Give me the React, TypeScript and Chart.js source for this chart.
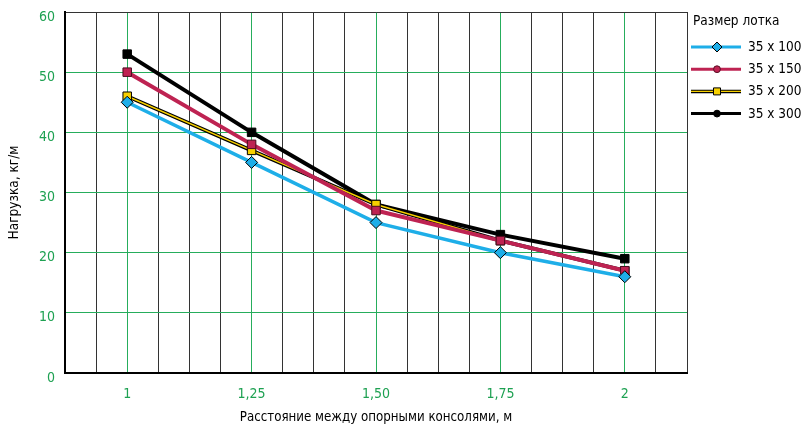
import React, { useEffect, useRef } from "react";
import { Chart, registerables } from "chart.js";

Chart.register(...registerables);

// ---- data ----
const xValues = [1, 1.25, 1.5, 1.75, 2];
const xTickLabels = ["1", "1,25", "1,50", "1,75", "2"];
const xGridValues = [
  0.875, 0.9375, 1, 1.0625, 1.125, 1.1875, 1.25, 1.3125, 1.375, 1.4375, 1.5,
  1.5625, 1.625, 1.6875, 1.75, 1.8125, 1.875, 1.9375, 2, 2.0625, 2.125,
];
const yTickValues = [0, 10, 20, 30, 40, 50, 60];

const series100 = [45, 35, 25, 20, 16];
const series150 = [50, 38, 27, 22, 17];
const series200 = [46, 37, 28, 22, 17];
const series300 = [53, 40, 28, 23, 19];

const seriesNames = ["35 x 100", "35 x 150", "35 x 200", "35 x 300"];
const legendTitle = "Размер лотка";
const yTitle = "Нагрузка, кг/м";
const xTitle = "Расстояние между опорными консолями, м";

// ---- styles ----
const FONT = "'Liberation Sans Narrow', 'Arial Narrow', 'DejaVu Sans Condensed', 'Liberation Sans', sans-serif";
const GREEN_GRID = "#26ad5c";
const GREEN_TEXT = "#1ea152";
const MINOR_GRID = "#333333";
const CYAN = "#1eaee8";
const CRIMSON = "#be2352";
const YELLOW = "#f7d000";
const BLACK = "#000000";

const toPoints = (vals: number[]) => vals.map((v, i) => ({ x: xValues[i], y: v }));

const legendPlugin = {
  id: "customLegend",
  afterDraw(chart: any) {
    const ctx = chart.ctx as CanvasRenderingContext2D;
    ctx.save();
    ctx.font = `13.5px ${FONT}`;
    ctx.fillStyle = "#000";
    ctx.textBaseline = "middle";
    ctx.textAlign = "left";
    ctx.fillText(legendTitle, 693, 21);
    const styles = [
      { color: CYAN, marker: "diamond", border: "#000" },
      { color: CRIMSON, marker: "circle", border: "#5a1025" },
      { color: YELLOW, marker: "square", border: "#000" },
      { color: BLACK, marker: "circle", border: "#000" },
    ];
    const x0 = 691;
    const x1 = 741;
    const mx = 717;
    seriesNames.forEach((name, i) => {
      const y = 47 + i * 22.2;
      const st = styles[i];
      ctx.lineCap = "butt";
      if (st.color === YELLOW) {
        ctx.strokeStyle = "#000";
        ctx.lineWidth = 3.5;
        ctx.beginPath();
        ctx.moveTo(x0, y);
        ctx.lineTo(x1, y);
        ctx.stroke();
        ctx.strokeStyle = YELLOW;
        ctx.lineWidth = 1.4;
        ctx.beginPath();
        ctx.moveTo(x0, y);
        ctx.lineTo(x1, y);
        ctx.stroke();
      } else {
        ctx.strokeStyle = st.color;
        ctx.lineWidth = 3;
        ctx.beginPath();
        ctx.moveTo(x0, y);
        ctx.lineTo(x1, y);
        ctx.stroke();
      }
      ctx.fillStyle = st.color;
      ctx.strokeStyle = st.border;
      ctx.lineWidth = 1;
      ctx.beginPath();
      if (st.marker === "diamond") {
        ctx.moveTo(mx, y - 5);
        ctx.lineTo(mx + 5, y);
        ctx.lineTo(mx, y + 5);
        ctx.lineTo(mx - 5, y);
        ctx.closePath();
      } else if (st.marker === "square") {
        ctx.rect(mx - 3.5, y - 3.5, 7, 7);
      } else {
        ctx.arc(mx, y, 3.4, 0, Math.PI * 2);
      }
      ctx.fill();
      ctx.stroke();
      ctx.fillStyle = "#000";
      ctx.fillText(name, 748, y + 0.5);
    });
    ctx.restore();
  },
};

export default function App() {
  const canvasRef = useRef<HTMLCanvasElement | null>(null);

  useEffect(() => {
    if (!canvasRef.current) return;
    const chart = new Chart(canvasRef.current, {
      type: "line",
      data: {
        datasets: [
          {
            label: seriesNames[0],
            data: toPoints(series100),
            borderColor: CYAN,
            backgroundColor: CYAN,
            borderWidth: 3.5,
            pointStyle: "rectRot",
            pointRadius: 6,
            pointBorderColor: "#000",
            pointBorderWidth: 1,
            pointBackgroundColor: CYAN,
          },
          {
            label: seriesNames[1],
            data: toPoints(series150),
            borderColor: CRIMSON,
            backgroundColor: CRIMSON,
            borderWidth: 4,
            pointStyle: "rect",
            pointRadius: 6,
            pointBorderColor: "#4a0c1e",
            pointBorderWidth: 1,
            pointBackgroundColor: CRIMSON,
          },
          {
            label: seriesNames[2],
            data: toPoints(series200),
            borderColor: YELLOW,
            backgroundColor: YELLOW,
            borderWidth: 1.5,
            pointStyle: "rect",
            pointRadius: 6,
            pointBorderColor: "#000",
            pointBorderWidth: 1,
            pointBackgroundColor: YELLOW,
          },
          {
            label: seriesNames[2] + " outline",
            data: toPoints(series200),
            borderColor: "#000",
            borderWidth: 3.8,
            pointRadius: 0,
          },
          {
            label: seriesNames[3],
            data: toPoints(series300),
            borderColor: BLACK,
            backgroundColor: BLACK,
            borderWidth: 4,
            pointStyle: "rect",
            pointRadius: 6,
            pointBorderColor: "#000",
            pointBorderWidth: 1,
            pointBackgroundColor: BLACK,
          },
        ],
      },
      options: {
        responsive: false,
        animation: false,
        devicePixelRatio: 1,
        layout: { padding: { left: 0, right: 115, top: 12, bottom: 0 } },
        plugins: {
          legend: { display: false },
          tooltip: { enabled: false },
        },
        scales: {
          x: {
            type: "linear",
            min: 0.875,
            max: 2.125,
            afterBuildTicks: (axis: any) => {
              axis.ticks = xGridValues.map((v) => ({ value: v }));
            },
            afterFit: (s: any) => {
              s.height = 53;
              s.paddingLeft = 0;
              s.paddingRight = 0;
            },
            ticks: {
              autoSkip: false,
              maxRotation: 0,
              minRotation: 0,
              padding: 13,
              color: GREEN_TEXT,
              font: { family: FONT, size: 14 },
              callback: (value: any) => {
                const idx = xValues.indexOf(Number(value));
                return idx >= 0 ? xTickLabels[idx] : "";
              },
            },
            grid: {
              drawTicks: false,
              lineWidth: 1,
              color: (ctx: any) => {
                const v = ctx.tick ? ctx.tick.value : null;
                if (v !== null && xValues.indexOf(v) >= 0) return GREEN_GRID;
                return MINOR_GRID;
              },
            },
            border: { color: "#000", width: 2 },
            title: {
              display: true,
              text: xTitle,
              color: "#000",
              font: { family: FONT, size: 13.2 },
              padding: { top: 0, bottom: 1 },
            },
          },
          y: {
            type: "linear",
            min: 0,
            max: 60,
            afterBuildTicks: (axis: any) => {
              axis.ticks = yTickValues.map((v) => ({ value: v }));
            },
            afterFit: (s: any) => {
              s.width = 65;
              s.paddingTop = 0;
              s.paddingBottom = 0;
            },
            ticks: {
              padding: 10,
              labelOffset: 5,
              color: GREEN_TEXT,
              font: { family: FONT, size: 14 },
              callback: (value: any) => String(value),
            },
            grid: {
              drawTicks: false,
              lineWidth: 1,
              color: (ctx: any) => {
                const v = ctx.tick ? ctx.tick.value : null;
                if (v === 60) return "#333";
                return GREEN_GRID;
              },
            },
            border: { color: "#000", width: 2 },
            title: {
              display: true,
              text: yTitle,
              color: "#000",
              font: { family: FONT, size: 13.5 },
              padding: { top: 6, bottom: 0 },
            },
          },
        },
      },
      plugins: [legendPlugin],
    } as any);
    return () => chart.destroy();
  }, []);

  return (
    <div style={{ position: "fixed", left: 0, top: 0, width: 802, height: 426, background: "#fff" }}>
      <canvas ref={canvasRef} width={802} height={426} style={{ width: 802, height: 426, display: "block" }} />
    </div>
  );
}
